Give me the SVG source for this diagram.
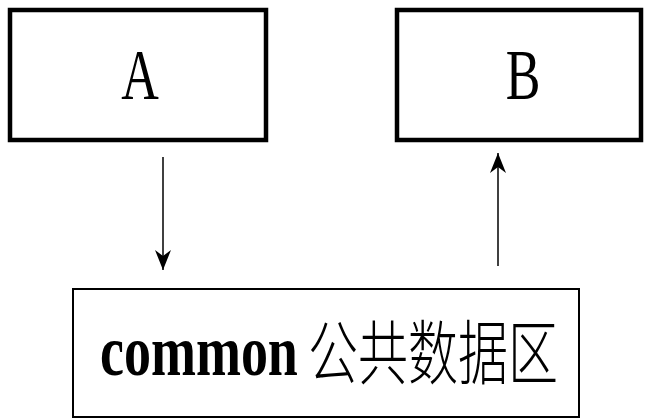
<svg xmlns="http://www.w3.org/2000/svg" width="648" height="418" viewBox="0 0 648 418">
<style>
.box{fill:#fff;stroke:#000}
.thick{stroke-width:4.5}
.thin{stroke-width:2}
.lbl{font-family:"Liberation Serif",serif;font-size:52px;fill:#000}
.conn{stroke:#000;stroke-width:1.5;fill:none}
</style>
<defs>
<marker id="ah" viewBox="0 0 10 10" refX="10" refY="5" markerWidth="6" markerHeight="6" markerUnits="userSpaceOnUse" orient="auto">
<path d="M0,0 L10,5 L0,10 L3,5 z" fill="#000"/>
</marker>
<marker id="ah2" viewBox="0 0 20 16" refX="20" refY="8" markerWidth="20" markerHeight="16" markerUnits="userSpaceOnUse" orient="auto">
<path d="M0,0 L20,8 L0,16 L6,8 z" fill="#000"/>
</marker>
</defs>
<rect width="648" height="418" fill="#fff"/>
<g id="nodeA">
<rect class="box thick" x="10" y="10" width="256" height="130"/>
<text class="lbl" text-anchor="middle" transform="translate(140,99) scale(1,1.4)">A</text>
</g>
<g id="nodeB">
<rect class="box thick" x="397" y="10" width="244" height="130"/>
<text class="lbl" text-anchor="middle" transform="translate(523,99) scale(1,1.4)">B</text>
</g>
<g id="nodeCommon">
<rect class="box thin" x="73" y="289" width="506" height="128"/>
<text transform="translate(100,375) scale(1,1.35)" style="font-family:'Liberation Serif',serif;font-weight:bold;font-size:54px">common</text>
<text transform="translate(308,379) scale(1,1.4)" style="font-family:'Noto Sans CJK SC',sans-serif;font-size:50px;font-weight:300">公共数据区</text>
</g>
<g id="connectors">
<line class="conn" x1="163" y1="157" x2="163" y2="270" marker-end="url(#ah2)"/>
<line class="conn" x1="498" y1="266" x2="498" y2="153" marker-end="url(#ah2)"/>
</g>
</svg>
